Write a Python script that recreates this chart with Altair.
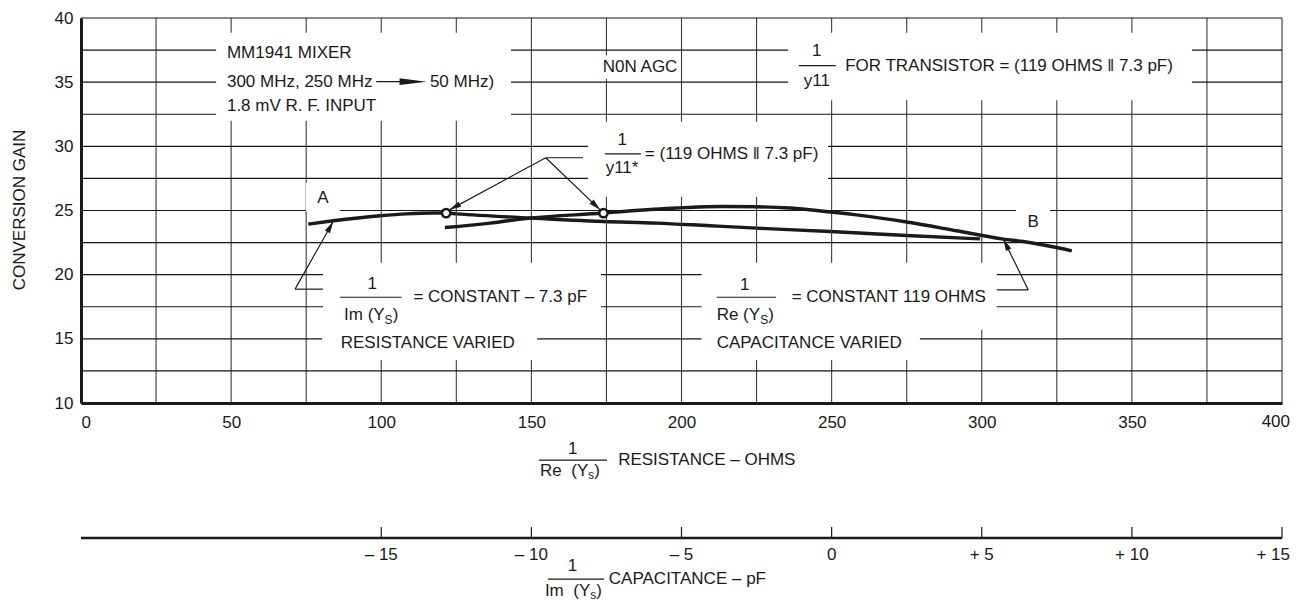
import altair as alt
import pandas as pd

# ---------------- data ----------------
# Curve A: resistance varied, 1/Im(Ys) held at -7.3 pF  (x in ohms)
curve_a_ohms = [75.7, 84.0, 99.6, 108.5, 117.3, 121.6, 125.1, 149.5, 174.0, 191.7, 209.5, 225.0, 249.5, 275.0, 299.4]
curve_a_gain = [23.94, 24.20, 24.59, 24.74, 24.80, 24.80, 24.74, 24.41, 24.14, 24.02, 23.81, 23.63, 23.36, 23.05, 22.79]

# Curve B: capacitance varied, 1/Re(Ys) held at 119 ohms  (x in pF, lower axis)
curve_b_pf = [-12.88, -11.38, -10.05, -7.6, -6.94, -5.16, -3.61, -2.5, -1.39, -0.5, 0.83, 2.5, 4.16, 5.72, 6.38, 8.0]
curve_b_gain = [23.67, 24.02, 24.41, 24.80, 24.92, 25.19, 25.31, 25.29, 25.19, 25.00, 24.66, 24.10, 23.42, 22.77, 22.58, 21.86]

# matched points 1/y11* = (119 ohms || 7.3 pF)
match_a_ohms = [121.6]
match_a_gain = [24.80]
match_b_pf = [-7.6]
match_b_gain = [24.80]

# axes
res_ticks = [0, 25, 50, 75, 100, 125, 150, 175, 200, 225, 250, 275, 300, 325, 350, 375, 400]
gain_grid = [10, 12.5, 15, 17.5, 20, 22.5, 25, 27.5, 30, 32.5, 35, 37.5, 40]
gain_ticks = [10, 15, 20, 25, 30, 35, 40]
cap_ticks = [-15, -10, -5, 0, 5, 10, 15]
cap_labels = ["– 15", "– 10", "– 5", "0", "+ 5", "+ 10", "+ 15"]
# the capacitance axis is aligned under the resistance axis: 0 pF at 250 ohms, 10 ohms per pF
CAP_ZERO_OHMS = 250
OHMS_PER_PF = 10

# ---------------- styling / layout ----------------
FONT = "Liberation Sans"
INK = "#1a1a1a"
W, H = 1201, 385
CAP_Y = H + 135          # pixel row of the capacitance axis line

xr = alt.Scale(domain=[0, 400], nice=False, zero=False)
ys = alt.Scale(domain=[10, 40], nice=False, zero=False)
to_ohms = f"{CAP_ZERO_OHMS} + {OHMS_PER_PF} * datum.c"


def XR(f="r"):
    return alt.X(f"{f}:Q", scale=xr, title="")


def YG(f="g"):
    return alt.Y(f"{f}:Q", scale=ys, title="")


# ---------------- grid ----------------
vgrid = alt.Chart(pd.DataFrame({"r": res_ticks})).mark_rule(
    color="#3a3a3a", strokeWidth=1.1).encode(x=XR("r"))
hgrid = alt.Chart(pd.DataFrame({"g": gain_grid})).mark_rule(
    color="#151515", strokeWidth=1.1).encode(y=YG("g"))

# ---------------- curve A carries the axes ----------------
df_a = pd.DataFrame({"r": curve_a_ohms, "g": curve_a_gain})
curve_a = alt.Chart(df_a).mark_line(color=INK, strokeWidth=3.4, interpolate="monotone").encode(
    x=alt.X("r:Q", scale=xr, title="", axis=alt.Axis(
        values=res_ticks, grid=False, ticks=False,
        domainColor=INK, domainWidth=3, zindex=1,
        labelExpr="(datum.value % 50 === 0 && datum.value < 400) ? datum.label : ''",
        labelFont=FONT, labelFontSize=17, labelColor=INK, labelPadding=11,
        labelFlush=True, labelOverlap=False)),
    y=alt.Y("g:Q", scale=ys, title="", axis=alt.Axis(
        values=gain_ticks, grid=False, ticks=False,
        domainColor=INK, domainWidth=3, zindex=1,
        labelFont=FONT, labelFontSize=17, labelColor=INK, labelPadding=8,
        labelFlush=False, labelOverlap=False)),
)

y_title = alt.Chart(pd.DataFrame({"t": ["CONVERSION GAIN"]})).mark_text(
    angle=270, align="center", baseline="middle", font=FONT, fontSize=17, color=INK).encode(
    x=alt.value(-61), y=alt.value(192), text="t:N")

# curve B, plotted against the capacitance scale
df_b = pd.DataFrame({"c": curve_b_pf, "g": curve_b_gain})
curve_b = alt.Chart(df_b).transform_calculate(r=to_ohms).mark_line(
    color=INK, strokeWidth=3.4, interpolate="monotone").encode(x=XR("r"), y=YG("g"))

# white label boxes that interrupt the grid
boxes = pd.DataFrame({
    "r": [45.0, 172.9, 235.5, 168.9, 80.6, 80.3, 206.7, 206.7, 74.9, 311.4],
    "r2": [143.2, 199.5, 370.0, 248.8, 173.2, 151.9, 305.0, 279.4, 86.3, 322.7],
    "g": [38.86, 37.07, 38.86, 31.92, 20.92, 16.24, 20.92, 15.69, 27.16, 25.44],
    "g2": [32.0, 35.27, 33.59, 26.07, 16.24, 13.35, 15.69, 13.35, 24.9, 22.87],
})
box_layer = alt.Chart(boxes).mark_rect(color="white").encode(
    x=XR("r"), x2="r2:Q", y=YG("g"), y2="g2:Q")

# leader lines, fraction bars, arrow shaft
lines = pd.DataFrame([
    (98.3, 35.04, 111.0, 35.04),
    (239.1, 36.29, 251.4, 36.29),
    (174.5, 29.42, 186.5, 29.42),
    (154.8, 29.11, 167.2, 29.11),
    (154.8, 29.11, 122.7, 25.05),
    (154.8, 29.11, 172.9, 25.05),
    (86.3, 18.24, 106.8, 18.24),
    (71.3, 18.87, 80.6, 18.87),
    (71.3, 18.87, 84.0, 24.14),
    (211.7, 18.24, 231.5, 18.24),
    (305.0, 18.81, 315.5, 18.81),
    (315.5, 18.81, 307.2, 22.77),
    (152.5, 5.55, 175.2, 5.55),
    (155.5, -3.73, 174.2, -3.73),
], columns=["r", "g", "r2", "g2"])
line_layer = alt.Chart(lines).mark_rule(color=INK, strokeWidth=1.2).encode(
    x=XR("r"), y=YG("g"), x2="r2:Q", y2="g2:Q")

heads = pd.DataFrame([
    (122.7, 25.05, 151.7),
    (172.9, 25.05, 43.8),
    (84.0, 24.14, 299.5),
    (307.2, 22.77, 243.7),
], columns=["r", "g", "a"])
head_layer = alt.Chart(heads).mark_point(
    shape="M 0 0 L -2 -0.5 L -2 0.5 Z", filled=True, size=140, color=INK, opacity=1).encode(
    x=XR("r"), y=YG("g"), angle=alt.Angle("a:Q", scale=None))

mhz_head = alt.Chart(pd.DataFrame({"r": [115.1], "g": [35.04]})).mark_point(
    shape="M 0 0 L -2 -0.25 L -2 0.25 Z", filled=True, size=729, color=INK, opacity=1).encode(
    x=XR("r"), y=YG("g"))

circle_a = alt.Chart(pd.DataFrame({"r": match_a_ohms, "g": match_a_gain})).mark_point(
    shape="circle", filled=True, fill="white", stroke=INK, strokeWidth=2.5, size=70, opacity=1).encode(
    x=XR("r"), y=YG("g"))

circle_b = alt.Chart(pd.DataFrame({"c": match_b_pf, "g": match_b_gain})).transform_calculate(
    r=to_ohms).mark_point(
    shape="circle", filled=True, fill="white", stroke=INK, strokeWidth=2.5, size=70, opacity=1).encode(
    x=XR("r"), y=YG("g"))

left_texts = pd.DataFrame([
    (48.6, 37.26, "MM1941 MIXER"),
    (48.6, 35.04, "300 MHz, 250 MHz"),
    (116.2, 35.04, "50 MHz)"),
    (48.6, 33.17, "1.8 mV R. F. INPUT"),
    (254.5, 36.23, "FOR TRANSISTOR = (119 OHMS ‖ 7.3 pF)"),
    (187.8, 29.42, "= (119 OHMS ‖ 7.3 pF)"),
    (87.6, 16.86, "Im (Y"),
    (103.8, 16.86, ")"),
    (110.7, 18.29, "= CONSTANT – 7.3 pF"),
    (86.5, 14.66, "RESISTANCE VARIED"),
    (211.7, 16.86, "Re (Y"),
    (228.9, 16.86, ")"),
    (236.7, 18.29, "= CONSTANT 119 OHMS"),
    (211.7, 14.66, "CAPACITANCE VARIED"),
    (152.9, 4.70, "Re\u00a0\u00a0(Y"),
    (170.9, 4.70, ")"),
    (178.9, 5.55, "RESISTANCE – OHMS"),
    (154.5, -4.66, "Im\u00a0\u00a0(Y"),
    (171.6, -4.66, ")"),
    (175.8, -3.73, "CAPACITANCE – pF"),
], columns=["r", "g", "t"])
left_layer = alt.Chart(left_texts).mark_text(
    align="left", baseline="middle", font=FONT, fontSize=17, color=INK).encode(
    x=XR("r"), y=YG("g"), text="t:N")

sub_texts = pd.DataFrame([
    (101.1, 16.50, "S"),
    (226.2, 16.50, "S"),
    (168.9, 4.38, "s"),
    (169.6, -4.98, "s"),
], columns=["r", "g", "t"])
sub_layer = alt.Chart(sub_texts).mark_text(
    align="left", baseline="middle", font=FONT, fontSize=12, color=INK).encode(
    x=XR("r"), y=YG("g"), text="t:N")

center_texts = pd.DataFrame([
    (186.2, 36.17, "N0N AGC"),
    (245.0, 37.40, "1"),
    (245.1, 35.06, "y11"),
    (180.3, 30.51, "1"),
    (180.2, 28.33, "y11*"),
    (97.0, 19.26, "1"),
    (221.1, 19.20, "1"),
    (80.6, 25.99, "A"),
    (317.1, 24.14, "B"),
    (163.8, 6.41, "1"),
    (163.7, -2.71, "1"),
], columns=["r", "g", "t"])
center_layer = alt.Chart(center_texts).mark_text(
    align="center", baseline="middle", font=FONT, fontSize=17, color=INK).encode(
    x=XR("r"), y=YG("g"), text="t:N")

# last resistance label, kept inside the page edge
last_res = alt.Chart(pd.DataFrame({"r": [res_ticks[-1]], "t": [str(res_ticks[-1])]})).mark_text(
    align="right", baseline="middle", dx=8, font=FONT, fontSize=17, color=INK).encode(
    x=XR("r"), y=alt.value(H + 19), text="t:N")

# ---------------- lower (capacitance) axis ----------------
cap_df = pd.DataFrame({"c": cap_ticks, "t": cap_labels})
cap_domain = alt.Chart(pd.DataFrame({"r": [res_ticks[0]], "r2": [res_ticks[-1]]})).mark_rule(
    color=INK, strokeWidth=2.6).encode(x=XR("r"), x2="r2:Q", y=alt.value(CAP_Y))
cap_tick_rules = alt.Chart(cap_df).transform_calculate(r=to_ohms).mark_rule(
    color=INK, strokeWidth=1.2).encode(
    x=XR("r"), y=alt.value(CAP_Y - 11), y2=alt.value(CAP_Y))
cap_tick_labels = alt.Chart(cap_df.iloc[:-1]).transform_calculate(r=to_ohms).mark_text(
    align="center", baseline="middle", font=FONT, fontSize=17, color=INK).encode(
    x=XR("r"), y=alt.value(CAP_Y + 17), text="t:N")
cap_last_label = alt.Chart(cap_df.iloc[-1:]).transform_calculate(r=to_ohms).mark_text(
    align="right", baseline="middle", dx=8, font=FONT, fontSize=17, color=INK).encode(
    x=XR("r"), y=alt.value(CAP_Y + 17), text="t:N")

chart = alt.layer(
    curve_a, vgrid, hgrid, box_layer, line_layer, head_layer, mhz_head,
    left_layer, sub_layer, center_layer, last_res, y_title,
    cap_domain, cap_tick_rules, cap_tick_labels, cap_last_label,
    curve_b, circle_a, circle_b,
).properties(
    width=W, height=H,
    autosize=alt.AutoSizeParams(type="none"),
    padding={"left": 73, "top": 10, "right": 9, "bottom": 199},
    background="white",
).configure_view(stroke=None)

chart.save("out.html", embed_options={"renderer": "svg", "actions": False})
